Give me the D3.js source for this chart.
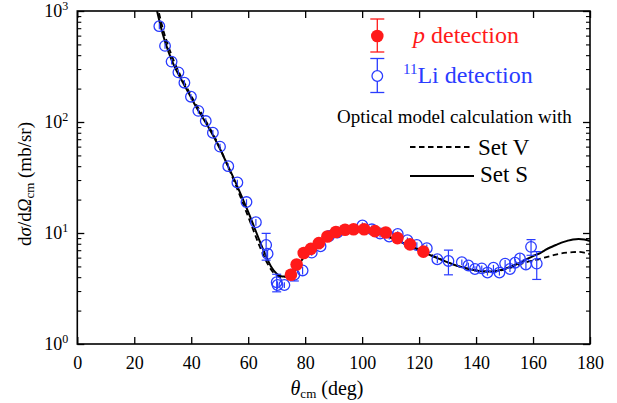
<!DOCTYPE html>
<html>
<head>
<meta charset="utf-8">
<script src="https://cdn.jsdelivr.net/npm/d3@7"></script>
<style>
  body { margin: 0; background: #fff; }
</style>
</head>
<body>
<svg id="main" width="617" height="403"></svg>
<script>
// ---- data ----
const pAngle = [75, 77, 79.5, 82, 84.8, 87.8, 90.8, 94, 97, 100.7, 104.5, 108.3, 112.4, 116.8, 121.5];
const pValue = [4.2, 5.2, 6.6, 7.2, 8.1, 9.3, 10.2, 10.7, 10.8, 10.8, 10.4, 10.1, 9.0, 7.9, 6.8];

const liAngle = [28.8, 30.8, 33.1, 35.5, 37.6, 39.9, 42.5, 45.1, 47.6, 50.1, 53.0, 56.2, 59.4, 62.7,
    66.3, 66.8, 70.0, 70.3, 72.7, 76.2, 79.1, 82.3, 85.4, 88.4, 91.3, 100.1, 103.4, 106.3, 109.5,
    112.5, 115.9, 119.2, 122.7, 126.4, 130.3, 135, 137.3, 139.6, 142, 144, 146.1, 148.2, 150.2,
    151.9, 153.7, 155.4, 157.5, 159.3, 161.3];
const liValue = [730, 485, 350, 280, 226, 169, 126, 102, 80, 60, 40, 28.5, 19, 12.5,
    7.8, 6.5, 3.6, 3.4, 3.4, 4.2, 4.6, 6.65, 7.6, 9.4, 10.1, 11.7, 10.8, 9.9, 9.3,
    9.8, 8.6, 7.8, 7.3, 5.8, 5.6, 5.45, 5.1, 4.74, 4.8, 4.4, 4.87, 4.4, 5.3,
    4.74, 5.4, 5.9, 5.2, 7.5, 5.3];
const liErr = [0.06, 0.06, 0.06, 0.06, 0.06, 0.06, 0.06, 0.06, 0.06, 0.06, 0.06, 0.06, 0.06, 0.07,
    0.27, 0.08, 0.18, 0.08, 0.06, 0.12, 0.08, 0.06, 0.06, 0.06, 0.06, 0.06, 0.08, 0.08, 0.06,
    0.06, 0.06, 0.06, 0.08, 0.08, 0.25, 0.06, 0.06, 0.06, 0.06, 0.06, 0.06, 0.06, 0.08,
    0.06, 0.08, 0.1, 0.1, 0.16, 0.28];

const curveAngle = [28, 30, 32, 34, 36, 38, 40, 42, 44, 46, 48, 50, 52, 54, 56, 58, 60, 62, 64, 66, 68,
    70, 72, 74, 76, 78, 80, 82, 84, 86, 88, 90, 92, 94, 96, 98, 100, 102, 104, 106, 108, 110, 112,
    114, 116, 118, 120, 122, 124, 126, 128, 130, 132, 134, 136, 138, 140, 142, 144, 146, 148, 150,
    152, 154, 156, 158, 160, 162, 164, 166, 168, 170, 172, 174, 176, 178, 180];
const setS = [1000, 620, 430, 320, 255, 205, 165, 133, 110, 90, 73, 58, 45, 35, 27, 20.5, 15.5, 11.5, 8.5, 6.4, 5.0,
    4.3, 4.05, 4.1, 4.5, 5.3, 6.3, 7.2, 8.1, 8.9, 9.6, 10.1, 10.5, 10.7, 10.8, 10.8, 10.7, 10.5, 10.2, 9.9, 9.5, 9.1, 8.6,
    8.2, 7.8, 7.4, 7.0, 6.6, 6.3, 6.0, 5.7, 5.45, 5.2, 5.0, 4.85, 4.7, 4.6, 4.52, 4.5, 4.52, 4.6, 4.75,
    4.95, 5.2, 5.5, 5.85, 6.2, 6.5, 6.95, 7.4, 7.8, 8.2, 8.5, 8.75, 8.85, 8.75, 8.45];
const setV = [1150, 700, 480, 350, 270, 215, 172, 140, 115, 93, 75, 59, 45, 34, 25.5, 19, 14, 10.3, 7.6, 5.8, 4.7,
    4.15, 4.0, 4.1, 4.5, 5.3, 6.3, 7.2, 8.1, 8.9, 9.6, 10.1, 10.5, 10.7, 10.8, 10.8, 10.7, 10.5, 10.2, 9.9, 9.5, 9.1, 8.65,
    8.25, 7.85, 7.5, 7.1, 6.75, 6.4, 6.05, 5.75, 5.45, 5.2, 5.0, 4.85, 4.7, 4.6, 4.52, 4.5, 4.52, 4.58, 4.7,
    4.85, 5.05, 5.3, 5.5, 5.65, 5.8, 6.0, 6.2, 6.4, 6.55, 6.65, 6.72, 6.75, 6.65, 6.45];

const xTicks = [0, 20, 40, 60, 80, 100, 120, 140, 160, 180];
const yTicks = [1, 10, 100, 1000];

// ---- layout ----
const plot = {left: 77.3, right: 590, top: 11, bottom: 344};
const red = "#ff1a1a";
const blue = "#2a3cff";
const serif = '"Liberation Serif", "Times New Roman", serif';

const svg = d3.select("#main");
const x = d3.scaleLinear([0, 180], [plot.left, plot.right]);
const y = d3.scaleLog([1, 1000], [plot.bottom, plot.top]);

svg.append("defs").append("clipPath").attr("id", "clip")
    .append("rect")
    .attr("x", plot.left).attr("y", plot.top)
    .attr("width", plot.right - plot.left).attr("height", plot.bottom - plot.top);

// minor log ticks
const minors = [];
[1, 10, 100].forEach(d => { for (let k = 2; k <= 9; k++) minors.push(d * k); });

// bottom axis
const xAxis = svg.append("g")
    .attr("transform", `translate(0,${plot.bottom})`)
    .call(d3.axisBottom(x).tickValues(xTicks).tickSize(-7).tickPadding(12).tickFormat(d3.format("d")));
xAxis.select(".domain").remove();
xAxis.selectAll("line").attr("stroke", "#000").attr("stroke-width", 1.3);
xAxis.selectAll("text").attr("font-size", 18).attr("fill", "#000");

// top axis ticks
const topAxis = svg.append("g")
    .attr("transform", `translate(0,${plot.top})`)
    .call(d3.axisTop(x).tickValues(xTicks).tickSize(-7).tickFormat(""));
topAxis.select(".domain").remove();
topAxis.selectAll("line").attr("stroke", "#000").attr("stroke-width", 1.3);

// left axis
const yAxis = svg.append("g")
    .attr("transform", `translate(${plot.left},0)`)
    .call(d3.axisLeft(y).tickValues(yTicks).tickSize(-7).tickPadding(9).tickFormat(""));
yAxis.select(".domain").remove();
yAxis.selectAll("line").attr("stroke", "#000").attr("stroke-width", 1.3);
yAxis.selectAll(".tick text")
    .attr("font-size", 18).attr("fill", "#000").attr("dy", "0.32em")
    .each(function(d) {
        const t = d3.select(this);
        t.append("tspan").text("10");
        t.append("tspan").attr("font-size", 12).attr("dy", "-0.6em").text(Math.round(Math.log10(d)));
    });

const yMinor = svg.append("g")
    .attr("transform", `translate(${plot.left},0)`)
    .call(d3.axisLeft(y).tickValues(minors).tickSize(-4).tickFormat(""));
yMinor.select(".domain").remove();
yMinor.selectAll("line").attr("stroke", "#000").attr("stroke-width", 1.1);

// right axis
const yRight = svg.append("g")
    .attr("transform", `translate(${plot.right},0)`)
    .call(d3.axisRight(y).tickValues(yTicks).tickSize(-7).tickFormat(""));
yRight.select(".domain").remove();
yRight.selectAll("line").attr("stroke", "#000").attr("stroke-width", 1.3);
const yRightMinor = svg.append("g")
    .attr("transform", `translate(${plot.right},0)`)
    .call(d3.axisRight(y).tickValues(minors).tickSize(-4).tickFormat(""));
yRightMinor.select(".domain").remove();
yRightMinor.selectAll("line").attr("stroke", "#000").attr("stroke-width", 1.1);

// frame
svg.append("rect")
    .attr("x", plot.left).attr("y", plot.top)
    .attr("width", plot.right - plot.left).attr("height", plot.bottom - plot.top)
    .attr("fill", "none").attr("stroke", "#000").attr("stroke-width", 1.6);

// axis titles
const xTitle = svg.append("text")
    .attr("x", 327).attr("y", 395)
    .attr("text-anchor", "middle").attr("font-size", 20);
xTitle.append("tspan").attr("font-style", "italic").text("θ");
xTitle.append("tspan").attr("font-size", 13).attr("dy", 3).text("cm");
xTitle.append("tspan").attr("dy", -3).text(" (deg)");

const yTitle = svg.append("text")
    .attr("transform", "translate(31,184) rotate(-90)")
    .attr("text-anchor", "middle").attr("font-size", 19);
yTitle.append("tspan").text("d");
yTitle.append("tspan").attr("font-style", "italic").text("σ");
yTitle.append("tspan").text("/d");
yTitle.append("tspan").attr("font-style", "italic").text("Ω");
yTitle.append("tspan").attr("font-size", 13).attr("dy", 3).text("cm");
yTitle.append("tspan").attr("dy", -3).text(" (mb/sr)");

// model curves
const line = (vals) => d3.line()
    .x((d, i) => x(curveAngle[i]))
    .y((d, i) => y(vals[i]))
    .curve(d3.curveMonotoneX)(vals);

const curves = svg.append("g").attr("clip-path", "url(#clip)");
curves.append("path")
    .attr("d", line(setV))
    .attr("fill", "none").attr("stroke", "#000").attr("stroke-width", 1.8)
    .attr("stroke-dasharray", "5.5,3.5");
curves.append("path")
    .attr("d", line(setS))
    .attr("fill", "none").attr("stroke", "#000").attr("stroke-width", 2);

// 11Li detection points
const liData = liAngle.map((a, i) => ({a: a, v: liValue[i], e: liErr[i]}));
const liG = svg.append("g").attr("clip-path", "url(#clip)");
const liPts = liG.selectAll("g").data(liData).join("g");
liPts.append("line")
    .attr("x1", d => x(d.a)).attr("x2", d => x(d.a))
    .attr("y1", d => y(d.v * (1 + d.e))).attr("y2", d => y(d.v * (1 - d.e)))
    .attr("stroke", blue).attr("stroke-width", 1.2);
liPts.filter(d => d.e > 0.1).selectAll("line.cap")
    .data(d => [d.v * (1 + d.e), d.v * (1 - d.e)].map(v => ({a: d.a, v: v})))
    .join("line").attr("class", "cap")
    .attr("x1", d => x(d.a) - 4.5).attr("x2", d => x(d.a) + 4.5)
    .attr("y1", d => y(d.v)).attr("y2", d => y(d.v))
    .attr("stroke", blue).attr("stroke-width", 1.2);
liPts.append("circle")
    .attr("cx", d => x(d.a)).attr("cy", d => y(d.v)).attr("r", 5.3)
    .attr("fill", "none").attr("stroke", blue).attr("stroke-width", 1.3);

// p detection points
svg.append("g").selectAll("circle")
    .data(pAngle.map((a, i) => ({a: a, v: pValue[i]})))
    .join("circle")
    .attr("cx", d => x(d.a)).attr("cy", d => y(d.v)).attr("r", 6.3)
    .attr("fill", red);

// legend
const leg = svg.append("g");
const lx = 377.3;
// p detection
leg.append("line").attr("x1", lx).attr("x2", lx).attr("y1", 19).attr("y2", 52).attr("stroke", red).attr("stroke-width", 1.3);
[19, 52].forEach(yy => leg.append("line").attr("x1", lx - 7).attr("x2", lx + 7).attr("y1", yy).attr("y2", yy).attr("stroke", red).attr("stroke-width", 1.3));
leg.append("circle").attr("cx", lx).attr("cy", 36).attr("r", 6.3).attr("fill", red);
const t1 = leg.append("text").attr("x", 413).attr("y", 43).attr("font-size", 24).attr("fill", red);
t1.append("tspan").attr("font-style", "italic").text("p");
t1.append("tspan").text(" detection");
// 11Li detection
leg.append("line").attr("x1", lx).attr("x2", lx).attr("y1", 58.5).attr("y2", 92.5).attr("stroke", blue).attr("stroke-width", 1.3);
[58.5, 92.5].forEach(yy => leg.append("line").attr("x1", lx - 7).attr("x2", lx + 7).attr("y1", yy).attr("y2", yy).attr("stroke", blue).attr("stroke-width", 1.3));
leg.append("circle").attr("cx", lx).attr("cy", 76).attr("r", 5.3).attr("fill", "#fff").attr("stroke", blue).attr("stroke-width", 1.3);
const t2 = leg.append("text").attr("x", 403).attr("y", 83).attr("font-size", 24).attr("fill", blue);
t2.append("tspan").attr("font-size", 15).attr("dy", -9).text("11");
t2.append("tspan").attr("dy", 9).text("Li detection");
// model legend
leg.append("text").attr("x", 337).attr("y", 123).attr("font-size", 19).text("Optical model calculation with");
leg.append("line").attr("x1", 410).attr("x2", 472).attr("y1", 147).attr("y2", 147)
    .attr("stroke", "#000").attr("stroke-width", 1.8).attr("stroke-dasharray", "5.5,3.5");
leg.append("text").attr("x", 478).attr("y", 155).attr("font-size", 23).text("Set V");
leg.append("line").attr("x1", 410).attr("x2", 474).attr("y1", 176).attr("y2", 176)
    .attr("stroke", "#000").attr("stroke-width", 2);
leg.append("text").attr("x", 480).attr("y", 182).attr("font-size", 23).text("Set S");

// serif font everywhere (d3 axes set sans-serif on their groups)
svg.selectAll("text").style("font-family", serif);
</script>
</body>
</html>
